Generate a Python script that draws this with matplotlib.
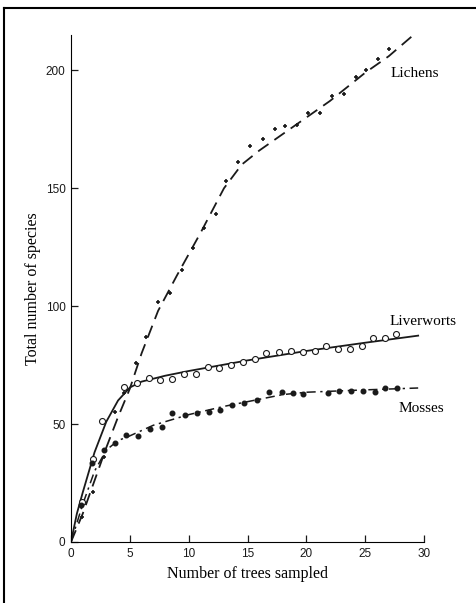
import matplotlib
matplotlib.use("Agg")
import matplotlib.pyplot as plt
from matplotlib.lines import Line2D

# points
lichen_x = [0.9, 1.9, 2.8, 3.7, 4.5, 5.5, 6.4, 7.4, 8.4, 9.4, 10.4, 11.3, 12.3, 13.2,
            14.2, 15.2, 16.3, 17.3, 18.2, 19.2, 20.1, 21.2, 22.2, 23.2, 24.2, 25.1, 26.1, 27.0]
lichen_y = [10.6, 21, 36, 55, 63, 76, 87, 101.7, 105.5, 115.5, 124.5, 133, 139, 153,
            161, 168, 171, 175, 176.5, 177, 182, 182, 189, 190, 197, 200, 205, 209]

liver_x = [0.9, 1.9, 2.6, 4.5, 5.6, 6.6, 7.6, 8.6, 9.6, 10.6, 11.6, 12.6, 13.6, 14.6,
           15.6, 16.6, 17.7, 18.7, 19.7, 20.7, 21.7, 22.7, 23.7, 24.7, 25.7, 26.7, 27.6]
liver_y = [17, 35, 51.3, 65.7, 67.4, 69.5, 68.6, 69, 71.2, 71.2, 74, 73.7, 75, 76.3,
           77.5, 80, 80.5, 81, 80.5, 81, 83, 82, 82, 83, 86.5, 86.5, 88]

moss_x = [0.85, 1.8, 2.8, 3.7, 4.7, 5.7, 6.7, 7.7, 8.6, 9.7, 10.7, 11.7, 12.7, 13.7,
          14.7, 15.8, 16.8, 17.9, 18.9, 19.7, 21.8, 22.8, 23.8, 24.8, 25.8, 26.7, 27.7]
moss_y = [15.5, 33.5, 39, 42, 45.3, 45, 47.9, 48.8, 54.7, 53.8, 54.7, 55, 56, 58,
          59, 60, 63.5, 63.5, 63, 62.7, 63, 64, 64, 64, 63.6, 65.3, 65.3]

# fitted curves
lichen_cx = [0, 1, 2, 3, 4, 5, 6, 7.4, 9, 11, 13, 14.5, 16, 18, 20, 22, 25, 27, 29.1]
lichen_cy = [0, 12, 26, 40, 53, 65, 80, 98, 113, 131, 150, 160, 166, 173, 180, 187, 199, 206, 215]

liver_cx = [0, 0.5, 1, 2, 3, 4, 5, 6, 8, 10, 15, 20, 25, 29.5]
liver_cy = [0, 12, 21, 38, 51, 60, 65.5, 68, 70.5, 72.5, 77, 81, 84.5, 87.5]

moss_cx = [0, 0.5, 1, 2, 3, 4, 5, 7, 10, 13, 16, 18, 20, 25, 29.5]
moss_cy = [0, 8, 16, 30, 39, 43, 45, 49.5, 54, 57.5, 60.5, 62.5, 63.5, 64.5, 65.3]

fig = plt.figure(figsize=(4.77, 6.03), dpi=100)
ax = fig.add_axes([0.1488, 0.1012, 0.7402, 0.8408])

lc = "#1a1a1a"
ax.plot(lichen_cx, lichen_cy, color=lc, lw=1.3, ls=(0, (7, 4)))
ax.plot(liver_cx, liver_cy, color=lc, lw=1.3, ls="-")
ax.plot(moss_cx, moss_cy, color=lc, lw=1.1, ls=(0, (6, 3, 1.5, 3)))

ax.plot(lichen_x, lichen_y, ls="none", marker="+", ms=3.5, mew=1.2, color=lc)
ax.plot(liver_x, liver_y, ls="none", marker="o", ms=4.3, mfc="white", mec=lc, mew=0.8)
ax.plot(moss_x, moss_y, ls="none", marker="o", ms=3.3, color=lc)

ax.set_xlim(0, 30)
ax.set_ylim(0, 215)
ax.set_xticks([0, 5, 10, 15, 20, 25, 30])
ax.set_yticks([0, 50, 100, 150, 200])
for s in ["top", "right"]:
    ax.spines[s].set_visible(False)
ax.spines["left"].set_bounds(0, 215)
ax.tick_params(direction="in", length=5, width=0.9, labelsize=8.5, pad=4, colors=lc)
for lab in ax.get_xticklabels() + ax.get_yticklabels():
    lab.set_family("Liberation Sans")

ax.set_xlabel("Number of trees sampled", family="Liberation Serif", fontsize=11.5, labelpad=5)
ax.set_ylabel("Total number of species", family="Liberation Serif", fontsize=11.5, labelpad=3)

ax.text(29.2, 198.5, "Lichens", family="Liberation Serif", fontsize=11, ha="center", va="center")
ax.text(29.9, 93.5, "Liverworts", family="Liberation Serif", fontsize=11, ha="center", va="center")
ax.text(29.8, 56.5, "Mosses", family="Liberation Serif", fontsize=11, ha="center", va="center")

# outer frame (left and top edges of the scanned box)
fig.add_artist(Line2D([0.009, 0.009], [0.0, 0.987], color="black", lw=1.5))
fig.add_artist(Line2D([0.009, 1.0], [0.987, 0.987], color="black", lw=1.5))

fig.savefig("out.png", dpi=100)
